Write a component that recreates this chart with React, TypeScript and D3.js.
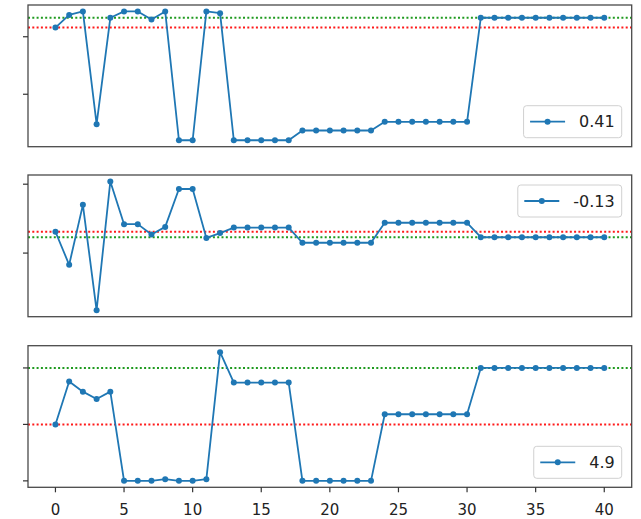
import { useEffect, useRef } from 'react';
import * as d3 from 'd3';

// x positions 0..40
const steps = d3.range(41);

// values (y axis is unlabeled, units are arbitrary)
const seriesTop = [
  1.16, 1.38, 1.44, -0.52, 1.33, 1.44, 1.44, 1.3, 1.44, -0.8,
  -0.8, 1.44, 1.41, -0.8, -0.8, -0.8, -0.8, -0.8, -0.63, -0.63,
  -0.63, -0.63, -0.63, -0.63, -0.48, -0.48, -0.48, -0.48, -0.48, -0.48,
  -0.48, 1.33, 1.33, 1.33, 1.33, 1.33, 1.33, 1.33, 1.33, 1.33, 1.33,
];
const seriesMid = [
  0.31, -0.17, 0.7, -0.83, 1.04, 0.42, 0.42, 0.27, 0.38, 0.93,
  0.93, 0.22, 0.29, 0.37, 0.37, 0.37, 0.37, 0.37, 0.15, 0.15,
  0.15, 0.15, 0.15, 0.15, 0.44, 0.44, 0.44, 0.44, 0.44, 0.44,
  0.44, 0.23, 0.23, 0.23, 0.23, 0.23, 0.23, 0.23, 0.23, 0.23, 0.23,
];
const seriesBottom = [
  1.0, 1.76, 1.58, 1.45, 1.58, 0, 0, 0, 0.03, 0,
  0, 0.03, 2.28, 1.74, 1.74, 1.74, 1.74, 1.74, 0, 0,
  0, 0, 0, 0, 1.18, 1.18, 1.18, 1.18, 1.18, 1.18,
  1.18, 2.0, 2.0, 2.0, 2.0, 2.0, 2.0, 2.0, 2.0, 2.0, 2.0,
];

const legendLabels = ['0.41', '-0.13', '4.9'];
const legendCorners = ['lower', 'upper', 'lower'];
const yTicks = [[0, 1], [0, 1], [0, 1, 2]];
const xTicks = [0, 5, 10, 15, 20, 25, 30, 35, 40];

const W = 641;
const H = 519;
const FONT = 'DejaVu Sans, sans-serif';
const BLUE = '#1f77b4';

export default function App() {
  const svgRef = useRef(null);

  useEffect(() => {
    const svg = d3.select(svgRef.current);
    svg.selectAll('*').remove();

    const left = 28;
    const right = 631.7;
    const panels = [
      { top: 5, bottom: 146.7, data: seriesTop },
      { top: 175, bottom: 316.7, data: seriesMid },
      { top: 345.7, bottom: 487.3, data: seriesBottom },
    ];

    const x = d3.scaleLinear().domain([-2, 42]).range([left, right]);

    panels.forEach((p, i) => {
      const [lo, hi] = d3.extent(p.data);
      const pad = (hi - lo) * 0.05;
      const y = d3.scaleLinear().domain([lo - pad, hi + pad]).range([p.bottom, p.top]);
      const g = svg.append('g');

      // reference lines: first value (red), last value (green)
      const refs = [
        { v: p.data[0], c: '#ff1a1a' },
        { v: p.data[p.data.length - 1], c: '#1f9a1f' },
      ];
      refs.forEach((r) => {
        g.append('line')
          .attr('x1', left).attr('x2', right)
          .attr('y1', y(r.v)).attr('y2', y(r.v))
          .attr('stroke', r.c)
          .attr('stroke-width', 2)
          .attr('stroke-dasharray', '2 2.3');
      });

      const line = d3.line()
        .x((d, k) => x(steps[k]))
        .y((d) => y(d));

      g.append('path')
        .datum(p.data)
        .attr('fill', 'none')
        .attr('stroke', BLUE)
        .attr('stroke-width', 1.8)
        .attr('stroke-linejoin', 'round')
        .attr('d', line);

      g.selectAll('circle.pt')
        .data(p.data)
        .join('circle')
        .attr('class', 'pt')
        .attr('cx', (d, k) => x(steps[k]))
        .attr('cy', (d) => y(d))
        .attr('r', 3)
        .attr('fill', BLUE);

      // spines
      g.append('rect')
        .attr('x', left).attr('y', p.top)
        .attr('width', right - left).attr('height', p.bottom - p.top)
        .attr('fill', 'none')
        .attr('stroke', '#4a4a4a')
        .attr('stroke-width', 1.3);

      // y ticks (no labels)
      yTicks[i].forEach((t) => {
        g.append('line')
          .attr('x1', left - 5).attr('x2', left)
          .attr('y1', y(t)).attr('y2', y(t))
          .attr('stroke', '#333')
          .attr('stroke-width', 1.2);
      });

      // x ticks only on the last panel
      if (i === panels.length - 1) {
        xTicks.forEach((t) => {
          g.append('line')
            .attr('x1', x(t)).attr('x2', x(t))
            .attr('y1', p.bottom).attr('y2', p.bottom + 5)
            .attr('stroke', '#333')
            .attr('stroke-width', 1.2);
          g.append('text')
            .attr('x', x(t))
            .attr('y', p.bottom + 28)
            .attr('text-anchor', 'middle')
            .attr('font-family', FONT)
            .attr('font-size', 15)
            .attr('fill', '#222')
            .text(t);
        });
      }

      // legend
      const lg = g.append('g');
      const rect = lg.append('rect');
      const txt = lg.append('text')
        .attr('font-family', FONT)
        .attr('font-size', 16)
        .attr('fill', '#222')
        .attr('dominant-baseline', 'central')
        .text(legendLabels[i]);
      const tw = txt.node().getComputedTextLength();
      const boxH = 32;
      const boxW = 6.5 + 35 + 14 + tw + 7;
      const bx = right - 10 - boxW;
      const by = legendCorners[i] === 'lower' ? p.bottom - 9 - boxH : p.top + 10;
      rect
        .attr('x', bx).attr('y', by)
        .attr('width', boxW).attr('height', boxH)
        .attr('rx', 3)
        .attr('fill', 'white').attr('fill-opacity', 0.8)
        .attr('stroke', '#d0d0d0')
        .attr('stroke-width', 1);
      const cy = by + boxH / 2;
      lg.append('line')
        .attr('x1', bx + 6.5).attr('x2', bx + 41.5)
        .attr('y1', cy).attr('y2', cy)
        .attr('stroke', BLUE).attr('stroke-width', 1.8);
      lg.append('circle')
        .attr('cx', bx + 24).attr('cy', cy)
        .attr('r', 3).attr('fill', BLUE);
      txt.attr('x', bx + 55.5).attr('y', cy);
      txt.raise();
    });
  }, []);

  return (
    <svg
      ref={svgRef}
      width={W}
      height={H}
      style={{ position: 'absolute', left: 0, top: 0, background: 'white' }}
    />
  );
}
